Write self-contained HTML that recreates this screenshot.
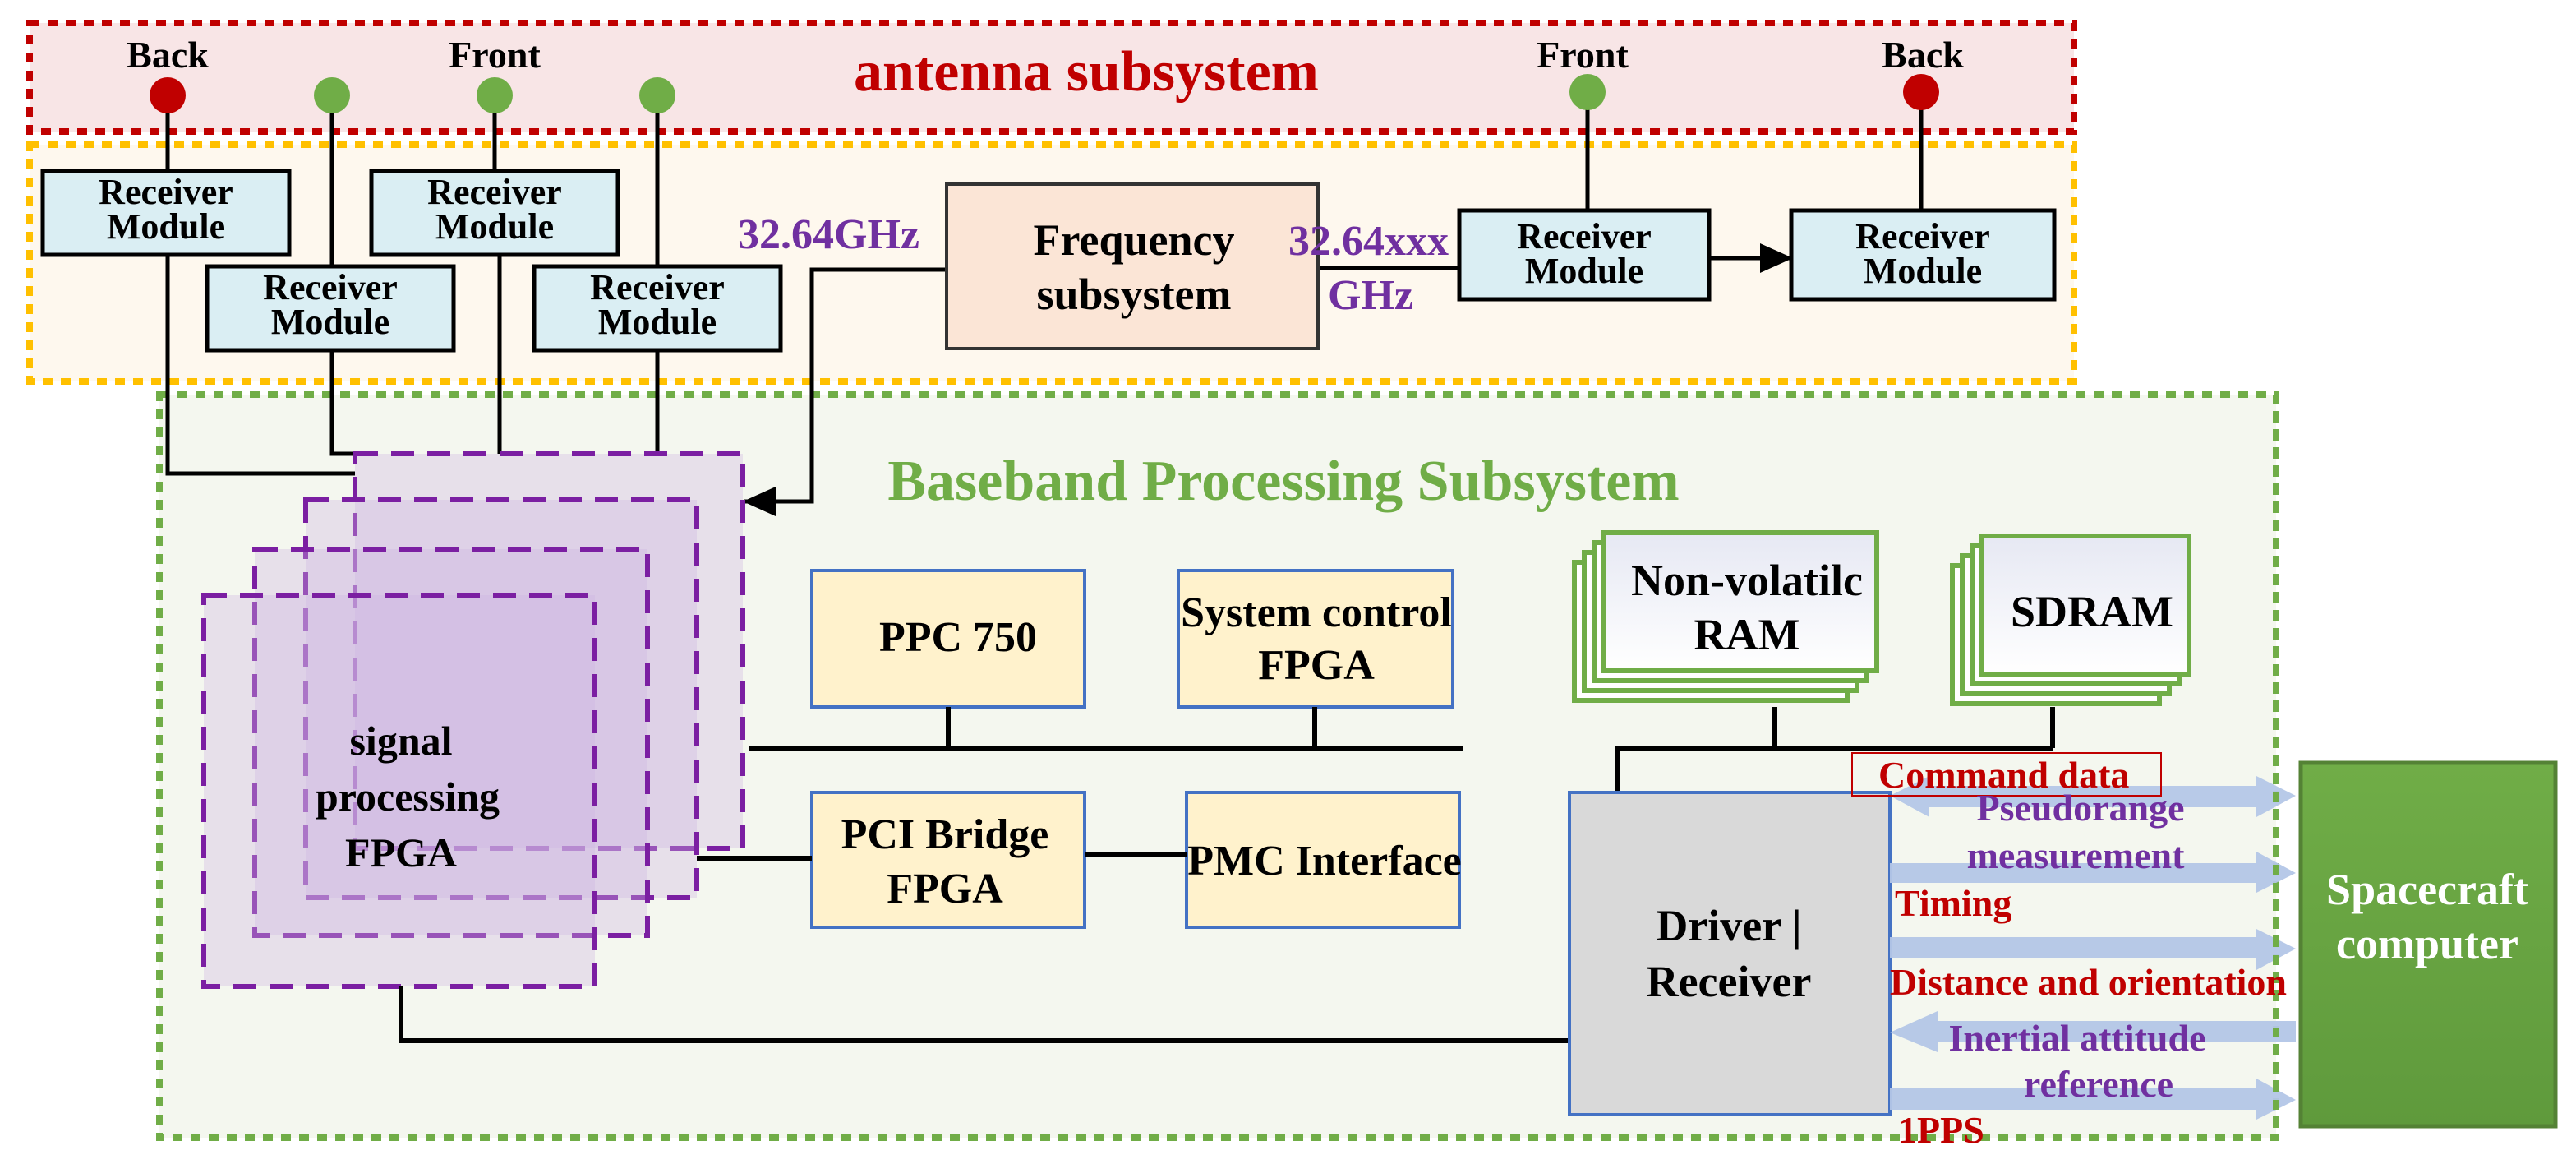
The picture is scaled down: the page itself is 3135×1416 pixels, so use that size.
<!DOCTYPE html>
<html><head><meta charset="utf-8"><style>
html,body{margin:0;padding:0;background:#fff}
svg{display:block}
text{font-family:"Liberation Serif",serif;font-weight:bold}
</style></head><body>
<svg width="3135" height="1416" viewBox="0 0 1567.5 708" xmlns="http://www.w3.org/2000/svg">
<defs>
<linearGradient id="g1" x1="0" y1="0" x2="0" y2="1"><stop offset="0" stop-color="#e6e8f3"/><stop offset="1" stop-color="#ffffff"/></linearGradient>
<linearGradient id="g2" x1="0" y1="0" x2="0" y2="1"><stop offset="0" stop-color="#70ad47"/><stop offset="1" stop-color="#5f9a3c"/></linearGradient>
<marker id="ah" markerWidth="20" markerHeight="18" refX="19" refY="9" orient="auto" markerUnits="userSpaceOnUse"><path d="M0,0 L20,9 L0,18 z" fill="#000"/></marker>
</defs>
<rect x="18" y="14" width="1244" height="66" fill="#f8e5e6" stroke="#c00000" stroke-width="4" stroke-dasharray="6,5"/>
<text x="661" y="55" font-size="35" fill="#c00000" text-anchor="middle">antenna subsystem</text>
<g font-size="23" fill="#000" text-anchor="middle">
<text x="102" y="41">Back</text><text x="301" y="41">Front</text><text x="963" y="41">Front</text><text x="1170" y="41">Back</text>
</g>
<rect x="18" y="88" width="1244" height="144" fill="#fef8ee" stroke="#ffc000" stroke-width="4" stroke-dasharray="6,5"/>
<rect x="97" y="240" width="1288" height="452" fill="#f4f7ef" stroke="#70ad47" stroke-width="4" stroke-dasharray="6,5"/>
<text x="781" y="304" font-size="35" fill="#70ad47" text-anchor="middle">Baseband Processing Subsystem</text>
<g stroke="#000" stroke-width="2.5" fill="none">
<path d="M102,58 V104 M202,58 V162 M301,58 V104 M400,58 V162 M966,56 V128 M1169,56 V128"/>
<path d="M102,155 V288 H216 M202,213 V276 H216 M304,155 V276 M400,213 V276"/>
<path d="M576,164 H494 V305 H453" marker-end="url(#ah)"/>
<path d="M802,163 H888"/>
<path d="M1040,157 H1090" marker-end="url(#ah)"/>
</g>
<circle cx="102" cy="58" r="11" fill="#c00000"/>
<circle cx="202" cy="58" r="11" fill="#70ad47"/>
<circle cx="301" cy="58" r="11" fill="#70ad47"/>
<circle cx="400" cy="58" r="11" fill="#70ad47"/>
<circle cx="966" cy="56" r="11" fill="#70ad47"/>
<circle cx="1169" cy="56" r="11" fill="#c00000"/>
<g fill="#daeef3" stroke="#000" stroke-width="2.5">
<rect x="26" y="104" width="150" height="51"/><rect x="126" y="162" width="150" height="51"/>
<rect x="226" y="104" width="150" height="51"/><rect x="325" y="162" width="150" height="51"/>
<rect x="888" y="128" width="152" height="54"/><rect x="1090" y="128" width="160" height="54"/>
</g>
<g font-size="22" fill="#000" text-anchor="middle">
<text x="101" y="124">Receiver</text><text x="101" y="145">Module</text>
<text x="201" y="182">Receiver</text><text x="201" y="203">Module</text>
<text x="301" y="124">Receiver</text><text x="301" y="145">Module</text>
<text x="400" y="182">Receiver</text><text x="400" y="203">Module</text>
<text x="964" y="151">Receiver</text><text x="964" y="172">Module</text>
<text x="1170" y="151">Receiver</text><text x="1170" y="172">Module</text>
</g>
<rect x="576" y="112" width="226" height="100" fill="#fbe5d6" stroke="#333" stroke-width="2"/>
<text x="690" y="155" font-size="27" text-anchor="middle">Frequency</text>
<text x="690" y="188" font-size="27" text-anchor="middle">subsystem</text>
<g font-size="26" fill="#7030a0">
<text x="449" y="151">32.64GHz</text><text x="784" y="155">32.64xxx</text><text x="808" y="188">GHz</text>
</g>
<g fill="rgba(205,180,225,0.35)" stroke="#7b1fa2" stroke-width="3" stroke-dasharray="14,8">
<rect x="216" y="276" width="236" height="240"/>
<rect x="186" y="304" width="238" height="242"/>
<rect x="155" y="334" width="239" height="235"/>
<rect x="124" y="362" width="238" height="238"/>
</g>
<g font-size="25" text-anchor="middle"><text x="244" y="459">signal</text><text x="248" y="493">processing</text><text x="244" y="527">FPGA</text></g>
<g fill="#fff2cc" stroke="#4472c4" stroke-width="2">
<rect x="494" y="347" width="166" height="83"/><rect x="717" y="347" width="167" height="83"/>
<rect x="494" y="482" width="166" height="82"/><rect x="722" y="482" width="166" height="82"/>
</g>
<g font-size="26" text-anchor="middle">
<text x="583" y="396">PPC  750</text>
<text x="801" y="381">System control</text><text x="801" y="413">FPGA</text>
<text x="575" y="516">PCI Bridge</text><text x="575" y="549">FPGA</text>
<text x="806" y="532">PMC Interface</text>
</g>
<g stroke="#000" stroke-width="3" fill="none">
<path d="M456,455 H890 M577,430 V455 M800,430 V455"/>
<path d="M424,522 H494 M660,520 H722"/>
<path d="M244,600 V633 H955"/>
<path d="M1080,430 V455 M984,482 V455 H1249 M1249,430 V455"/>
</g>
<g stroke="#70ad47" stroke-width="3">
<rect x="958" y="342" width="166" height="84" fill="#fff"/>
<rect x="964" y="336" width="166" height="84" fill="#fff"/>
<rect x="970" y="330" width="166" height="84" fill="#fff"/>
<rect x="976" y="324" width="166" height="84" fill="url(#g1)"/>
<rect x="1188" y="344" width="126" height="84" fill="#fff"/>
<rect x="1194" y="338" width="126" height="84" fill="#fff"/>
<rect x="1200" y="332" width="126" height="84" fill="#fff"/>
<rect x="1206" y="326" width="126" height="84" fill="url(#g1)"/>
</g>
<g font-size="27" text-anchor="middle">
<text x="1063" y="362">Non-volatilc</text><text x="1063" y="395">RAM</text>
<text x="1273" y="381">SDRAM</text>
</g>
<rect x="955" y="482" width="195" height="196" fill="#d9d9d9" stroke="#4472c4" stroke-width="2"/>
<text x="1052" y="572" font-size="27" text-anchor="middle">Driver |</text>
<text x="1052" y="606" font-size="27" text-anchor="middle">Receiver</text>
<g fill="#b4c7e7" opacity="0.95">
<path d="M1150,484 L1174,472 V478 H1373 V472 L1397,484 L1373,497 V491 H1174 V497 z"/>
<path d="M1150,525 H1373 V518 L1397,531 L1373,543 V537 H1150 z"/>
<path d="M1150,570 H1373 V565 L1397,577 L1373,590 V583 H1150 z"/>
<path d="M1397,621 H1179 V615 L1150,628 L1179,640 V634 H1397 z"/>
<path d="M1150,662 H1373 V656 L1397,669 L1373,681 V675 H1150 z"/>
</g>
<line x1="1385" y1="240" x2="1385" y2="692" stroke="#70ad47" stroke-width="4" stroke-dasharray="6,5"/>
<rect x="1127" y="458" width="188" height="26" fill="none" stroke="#c00000" stroke-width="1"/>
<g font-size="23">
<text x="1143" y="479" fill="#c00000">Command data</text>
<text x="1266" y="499" fill="#7030a0" text-anchor="middle">Pseudorange</text>
<text x="1263" y="528" fill="#7030a0" text-anchor="middle">measurement</text>
<text x="1153" y="557" fill="#c00000">Timing</text>
<text x="1150" y="605" fill="#c00000">Distance and orientation</text>
<text x="1264" y="639" fill="#7030a0" text-anchor="middle">Inertial attitude</text>
<text x="1277" y="667" fill="#7030a0" text-anchor="middle">reference</text>
<text x="1155" y="695" fill="#c00000">1PPS</text>
</g>
<rect x="1400" y="464" width="155" height="221" fill="url(#g2)" stroke="#548235" stroke-width="2.5"/>
<text x="1477" y="550" font-size="27" fill="#fff" text-anchor="middle">Spacecraft</text>
<text x="1477" y="583" font-size="27" fill="#fff" text-anchor="middle">computer</text>
</svg>
</body></html>
